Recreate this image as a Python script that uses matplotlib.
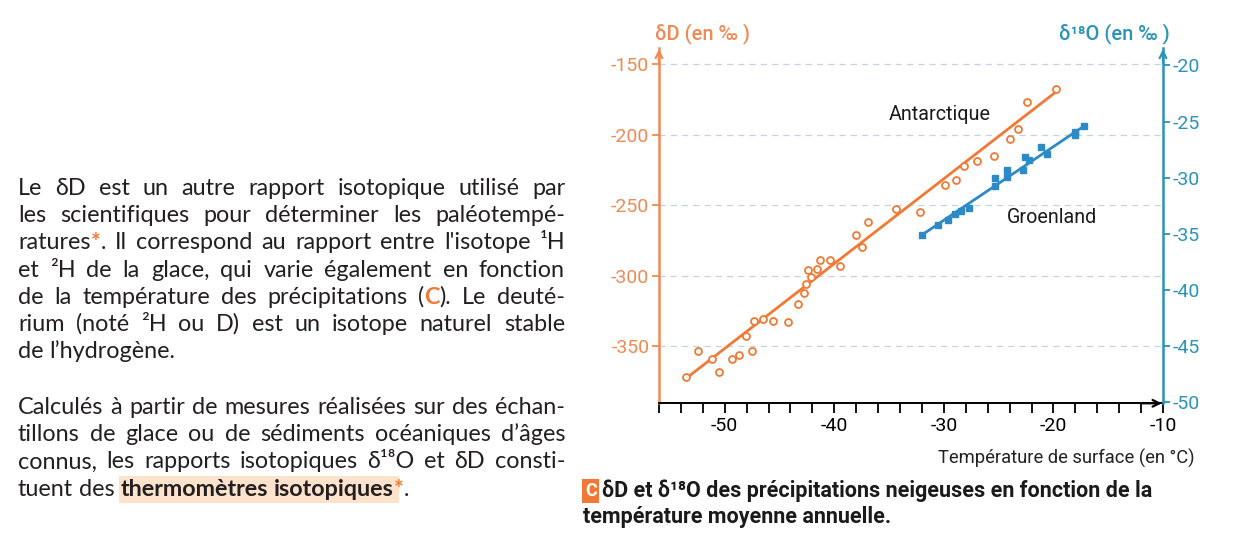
import re
import matplotlib.pyplot as plt
from matplotlib.ticker import MultipleLocator
from matplotlib.transforms import IdentityTransform
from matplotlib.patches import Rectangle

plt.rcParams['axes.unicode_minus'] = False

# Antarctique : dD en fonction de la temperature
ant_temp = [-53.5, -52.4, -51.2, -50.5, -49.3, -48.7, -47.5, -48.1, -47.3, -46.5,
            -45.6, -44.2, -43.3, -42.8, -42.6, -42.1, -42.4, -41.6, -41.3, -40.4,
            -39.5, -38.0, -37.5, -36.9, -34.4, -32.2, -29.9, -28.9, -28.2, -27.0,
            -25.4, -24.0, -23.2, -22.4, -19.8]
ant_dD = [-372, -353, -359, -368, -359, -356, -353, -343, -332, -331,
          -332, -333, -320, -312, -306, -301, -296, -295, -289, -289,
          -293, -271, -280, -262, -253, -255, -236, -232, -222, -219,
          -215, -203, -196, -177, -168]
ant_fit_temp = [-53.4, -19.8]
ant_fit_dD = [-372, -170]

# Groenland : d18O en fonction de la temperature
groen_temp = [-32.0, -30.5, -29.6, -29.0, -28.4, -27.7, -25.3, -25.3, -24.2, -24.2,
              -22.8, -22.6, -22.2, -21.1, -20.6, -18.0, -18.0, -17.2]
groen_d18O = [-35.1, -34.2, -33.8, -33.2, -33.0, -32.7, -30.0, -30.7, -29.3, -29.9,
              -29.3, -28.2, -28.4, -27.3, -27.9, -26.2, -25.9, -25.4]
groen_fit_temp = [-32.0, -17.2]
groen_fit_d18O = [-35.1, -25.4]

dD_ticks = [-150, -200, -250, -300, -350]
d18O_ticks = [-20, -25, -30, -35, -40, -45, -50]
temp_ticks = [-50, -40, -30, -20, -10]

para1 = [
    "Le δD est un autre rapport isotopique utilisé par",
    "les scientifiques pour déterminer les paléotempé-",
    "ratures[*]. Il correspond au rapport entre l'isotope ¹H",
    "et ²H de la glace, qui varie également en fonction",
    "de la température des précipitations ([C]). Le deuté-",
    "rium (noté ²H ou D) est un isotope naturel stable",
    "de l’hydrogène.",
]
para2 = [
    "Calculés à partir de mesures réalisées sur des échan-",
    "tillons de glace ou de sédiments océaniques d’âges",
    "connus, les rapports isotopiques δ¹⁸O et δD consti-",
    "tuent des {thermomètres} {isotopiques}[*].",
]

orange = '#f07a35'
orange_ax = '#ef8a55'
blue = '#2e8ac6'
teal = '#2a93b8'
narrow = ['Roboto', 'DejaVu Sans']
body = ['Lato', 'DejaVu Sans']

W, H = 1236, 552
fig = plt.figure(figsize=(W / 100, H / 100), dpi=100)

# ---- graphique
ax = fig.add_axes([659 / W, 1 - 403.3 / H, 504 / W, 355.3 / H])
ax.set_xlim(-56, -10)
ax.set_ylim(-390.4, -138.7)
ax2 = ax.twinx()
ax2.set_ylim(-50.1, -18.45)

ax.grid(axis='y', linestyle=(0, (5, 4)), color='#c5d2e2', lw=0.9)
ax.set_axisbelow(True)

ax.plot(ant_fit_temp, ant_fit_dD, color=orange, lw=2)
ax.plot(ant_temp, ant_dD, 'o', mfc='white', mec=orange, ms=5, mew=1.3)
ax2.plot(groen_fit_temp, groen_fit_d18O, color=blue, lw=2)
ax2.plot(groen_temp, groen_d18O, 's', color=blue, ms=5)

for a in (ax, ax2):
    a.spines['top'].set_visible(False)
ax.spines['right'].set_visible(False)
ax2.spines['left'].set_visible(False)
ax2.spines['bottom'].set_visible(False)
ax.spines['left'].set_color(orange_ax)
ax.spines['left'].set_linewidth(1.8)
ax.spines['bottom'].set_linewidth(1.4)
ax2.spines['right'].set_color(teal)
ax2.spines['right'].set_linewidth(1.8)

ax.set_xticks(temp_ticks)
ax.xaxis.set_minor_locator(MultipleLocator(2))
ax.tick_params(axis='x', which='both', length=7, width=1.3, direction='out',
               labelsize=14, pad=3)
ax.set_yticks(dD_ticks)
ax.tick_params(axis='y', length=5, width=1.3, colors=orange_ax, labelsize=14, pad=2)
ax2.set_yticks(d18O_ticks)
ax2.tick_params(axis='y', length=5, width=1.3, colors=teal, labelsize=14, pad=2)
for lab in ax.get_xticklabels() + ax.get_yticklabels() + ax2.get_yticklabels():
    lab.set_family(narrow)

arrow = dict(arrowstyle='->', lw=1.6, mutation_scale=12)
ax.annotate('', xy=(0, 1.005), xytext=(0, 0.95), xycoords='axes fraction',
            arrowprops=dict(arrow, color=orange_ax))
ax.annotate('', xy=(1.003, 0), xytext=(0.95, 0), xycoords='axes fraction',
            arrowprops=dict(arrow, color='black'))
ax.annotate('', xy=(1, 1.005), xytext=(1, 0.95), xycoords='axes fraction',
            arrowprops=dict(arrow, color=teal))

ax.text(-30.35, -186, 'Antarctique', ha='center', va='center', fontsize=14.2,
        family=narrow, color='#1a1a1a')
ax.text(-20.1, -258.5, 'Groenland', ha='center', va='center', fontsize=14.2,
        family=narrow, color='#1a1a1a')

fig.text(655 / W, 1 - 34 / H, 'δD (en ‰ )', color=orange_ax, fontsize=14.5,
         family=narrow, weight='medium', va='center', ha='left')
fig.text(1170 / W, 1 - 34 / H, 'δ¹⁸O (en ‰ )', color=teal, fontsize=14.5,
         family=narrow, weight='medium', va='center', ha='right')
fig.text(1195 / W, 1 - 458 / H, 'Température de surface (en °C)', fontsize=13.2,
         family=narrow, va='center', ha='right', color='#222222')

# légende de la figure
fig.text(585 / W, 1 - 491 / H, 'C', color='white', fontsize=13, weight='bold',
         family=narrow, va='center', ha='left',
         bbox=dict(boxstyle='square,pad=0.15', fc=orange, ec='none'))
fig.text(602 / W, 1 - 491 / H,
         'δD et δ¹⁸O des précipitations neigeuses en fonction de la',
         fontsize=15.5, weight='bold', family=narrow, va='center', color='#1a1a1a')
fig.text(583 / W, 1 - 517 / H, 'température moyenne annuelle.',
         fontsize=15.5, weight='bold', family=narrow, va='center', color='#1a1a1a')

# ---- texte de gauche (justifié)
px = IdentityTransform()
r = fig.canvas.get_renderer()
fs = 16.8
styles = {
    'n': dict(family=body, size=fs, color='#231f20'),
    'o': dict(family=body, size=fs, color=orange, weight='bold'),
    'b': dict(family=body, size=fs, color='#231f20', weight='bold'),
}


def parse(word):
    runs = []
    for m in re.finditer(r'\[([^\]]*)\]|\{([^}]*)\}|([^\[\{]+)', word):
        if m.group(1) is not None:
            runs.append((m.group(1), 'o'))
        elif m.group(2) is not None:
            runs.append((m.group(2), 'b'))
        else:
            runs.append((m.group(3), 'n'))
    return runs


def text_w(t):
    return t.get_window_extent(renderer=r).width


probe = fig.text(0, 0, 'a a', transform=px, **styles['n'])
probe2 = fig.text(0, 0, 'aa', transform=px, **styles['n'])
space_w = text_w(probe) - text_w(probe2)
probe.remove()
probe2.remove()


def draw_line(x0, y, line, right=None):
    words = []
    for w in line.split(' '):
        items = []
        for s, st in parse(w):
            t = fig.text(0, H - y, s, transform=px, va='baseline', **styles[st])
            items.append((t, text_w(t), st))
        words.append(items)
    widths = [sum(i[1] for i in it) for it in words]
    if right is not None and len(words) > 1:
        gap = (right - x0 - sum(widths)) / (len(words) - 1)
        gap = max(gap, space_w * 0.5)
    else:
        gap = space_w
    x = x0
    bold = []
    for it, wd in zip(words, widths):
        for t, tw, st in it:
            t.set_x(x)
            if st == 'b':
                bold.append((x, x + tw))
            x += tw
        x += gap
    if bold:
        x_a, x_b = bold[0][0], bold[-1][1]
        fig.patches.append(Rectangle((x_a - 2, H - y - 7), x_b - x_a + 7, 27,
                                     transform=px, fc='#fde3cc', ec='none',
                                     zorder=-1))


for i, line in enumerate(para1):
    last = i == len(para1) - 1
    draw_line(18, 195 + 27.2 * i, line, None if last else 565)
for i, line in enumerate(para2):
    last = i == len(para2) - 1
    draw_line(18, 414 + 27.2 * i, line, None if last else 565)

fig.savefig('out.png', dpi=100)
